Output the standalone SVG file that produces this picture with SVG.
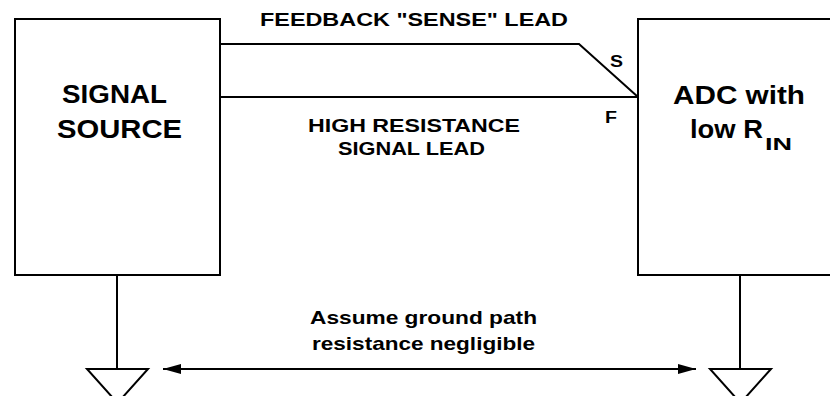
<svg xmlns="http://www.w3.org/2000/svg" width="830" height="396" viewBox="0 0 830 396">
<style>
.ln{fill:none;stroke:#000;stroke-width:2;}
.box{fill:#fff;stroke:#000;stroke-width:2;}
text{font-family:"Liberation Sans",Arial,sans-serif;font-weight:bold;fill:#000;}
.big{font-size:25px;}
.mid{font-size:19px;}
.sm{font-size:16px;}
</style>
<defs>
<marker id="ah" viewBox="0 0 18 10" refX="18" refY="5" markerWidth="18" markerHeight="10" markerUnits="userSpaceOnUse" orient="auto-start-reverse">
<path d="M0,0 L18,5 L0,10 Z" fill="#000"/>
</marker>
</defs>
<rect width="830" height="396" fill="#fff"/>
<g id="connectors">
<polyline class="ln" points="220,44 579,44 638,97"/>
<line class="ln" x1="220" y1="97" x2="638" y2="97"/>
<line class="ln" x1="117" y1="275" x2="117" y2="369"/>
<line class="ln" x1="740" y1="275" x2="740" y2="369"/>
<line class="ln" x1="163" y1="369" x2="696" y2="369" marker-start="url(#ah)" marker-end="url(#ah)"/>
</g>
<g id="signal-source">
<rect class="box" x="15" y="19" width="205" height="256"/>
<text class="big" x="62" y="103" textLength="105" lengthAdjust="spacingAndGlyphs">SIGNAL</text>
<text class="big" x="57" y="138" textLength="125" lengthAdjust="spacingAndGlyphs">SOURCE</text>
</g>
<g id="adc">
<rect class="box" x="638" y="19" width="260" height="256"/>
<text class="big" x="673" y="104" textLength="132" lengthAdjust="spacingAndGlyphs">ADC with</text>
<text class="big" x="690" y="138" textLength="73" lengthAdjust="spacingAndGlyphs">low R</text>
<text class="sm" x="765" y="150" textLength="27" lengthAdjust="spacingAndGlyphs">IN</text>
</g>
<g id="ground-left">
<polygon class="box" points="87,369 148,369 117.5,403"/>
</g>
<g id="ground-right">
<polygon class="box" points="710,369 771,369 740.5,403"/>
</g>
<g id="labels">
<text class="mid" x="260" y="26" textLength="308" lengthAdjust="spacingAndGlyphs">FEEDBACK "SENSE" LEAD</text>
<text class="mid" x="308" y="132" textLength="212" lengthAdjust="spacingAndGlyphs">HIGH RESISTANCE</text>
<text class="mid" x="338" y="155" textLength="147" lengthAdjust="spacingAndGlyphs">SIGNAL LEAD</text>
<text class="sm" x="610" y="67" textLength="13" lengthAdjust="spacingAndGlyphs">S</text>
<text class="sm" x="605" y="123" textLength="12" lengthAdjust="spacingAndGlyphs">F</text>
<text class="mid" x="310" y="324" textLength="227" lengthAdjust="spacingAndGlyphs">Assume ground path</text>
<text class="mid" x="312" y="350" textLength="223" lengthAdjust="spacingAndGlyphs">resistance negligible</text>
</g>
</svg>
